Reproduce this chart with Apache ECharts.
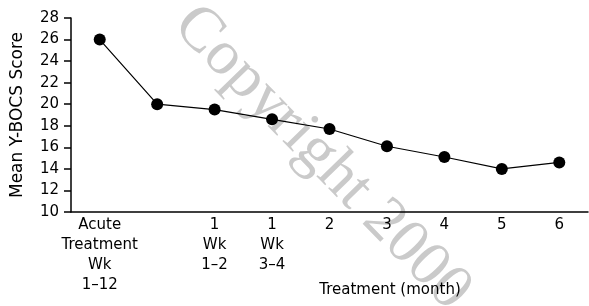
<!doctype html>
<html lang="en">
  <head>
    <meta charset="UTF-8" />
    <title>Mean Y-BOCS Score</title>
    <script src="https://cdn.jsdelivr.net/npm/echarts@6/dist/echarts.min.js"></script>
    <style>
      * { margin: 0; padding: 0; }
      html, body, #chart { width: 589px; height: 306px; overflow: hidden; background: #fff; }
    </style>
  </head>
  <body>
    <div id="chart"></div>
    <script>
      // categories along the bottom (multi-line labels)
      const categories = [
        'Acute\nTreatment\nWk\n1–12',
        '',
        '1\nWk\n1–2',
        '1\nWk\n3–4',
        '2', '3', '4', '5', '6'
      ];
      const scores = [26.0, 20.0, 19.5, 18.6, 17.7, 16.1, 15.1, 14.0, 14.6];
      const yTicks = { min: 10, max: 28, step: 2 };

      const font = 'DejaVu Sans, sans-serif';

      const chart = echarts.init(document.getElementById('chart'));
      chart.setOption({
        animation: false,
        grid: { left: 71, right: 1, top: 18, bottom: 94 },
        xAxis: {
          type: 'category',
          data: categories,
          boundaryGap: true,
          axisLine: { lineStyle: { color: '#000', width: 1.5 } },
          axisTick: { show: false },
          axisLabel: {
            color: '#000', fontFamily: font, fontSize: 15,
            lineHeight: 20, margin: 3, interval: 0
          }
        },
        yAxis: {
          type: 'value',
          min: yTicks.min, max: yTicks.max, interval: yTicks.step,
          name: 'Mean Y-BOCS Score',
          nameLocation: 'middle',
          nameGap: 45,
          nameTextStyle: { color: '#000', fontFamily: font, fontSize: 17 },
          axisLine: { show: true, lineStyle: { color: '#000', width: 1.5 } },
          axisTick: { show: true, length: 7, lineStyle: { color: '#000', width: 1.5 } },
          axisLabel: { color: '#000', fontFamily: font, fontSize: 15, margin: 12 },
          splitLine: { show: false }
        },
        graphic: [
          {
            type: 'text', x: 390, y: 290, z: 10,
            style: {
              text: 'Treatment (month)', fill: '#000', font: '15px ' + font,
              align: 'center', verticalAlign: 'middle'
            }
          },
          {
            // faint diagonal watermark
            type: 'text', x: 322, y: 158, rotation: -0.8, z: -1, silent: true,
            style: {
              text: 'Copyright 2000', fill: '#cacaca',
              font: '63px Liberation Serif, Times New Roman, serif',
              align: 'center', verticalAlign: 'middle'
            }
          }
        ],
        series: [{
          type: 'line',
          data: scores,
          symbol: 'circle',
          symbolSize: 12,
          itemStyle: { color: '#000' },
          lineStyle: { color: '#000', width: 1.2 },
          z: 5
        }]
      });
    </script>
  </body>
</html>
